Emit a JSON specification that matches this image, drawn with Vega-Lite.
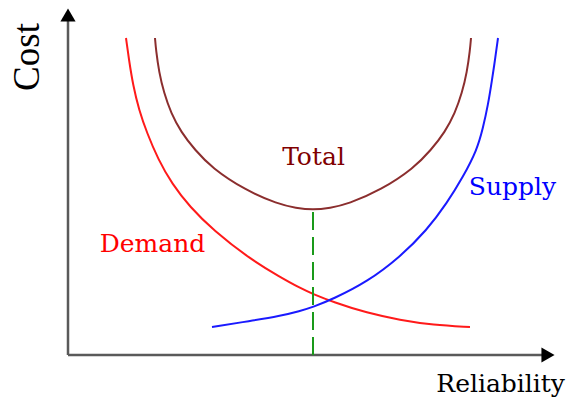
{
  "$schema": "https://vega.github.io/schema/vega-lite/v6.json",
  "width": 490,
  "height": 347,
  "autosize": {"type": "none"},
  "padding": {"left": 68, "top": 8, "right": 8, "bottom": 48},
  "background": "white",
  "config": {"view": {"stroke": null}},
  "datasets": {
    "curves": [
      {"series": "Demand", "x": 58, "y": 317},
      {"series": "Demand", "x": 61, "y": 295},
      {"series": "Demand", "x": 65, "y": 270},
      {"series": "Demand", "x": 71, "y": 245},
      {"series": "Demand", "x": 79, "y": 222},
      {"series": "Demand", "x": 90, "y": 196},
      {"series": "Demand", "x": 104, "y": 171},
      {"series": "Demand", "x": 122, "y": 148},
      {"series": "Demand", "x": 145, "y": 125},
      {"series": "Demand", "x": 182, "y": 96},
      {"series": "Demand", "x": 212, "y": 78},
      {"series": "Demand", "x": 232, "y": 67},
      {"series": "Demand", "x": 245, "y": 61},
      {"series": "Demand", "x": 265, "y": 53},
      {"series": "Demand", "x": 299, "y": 42},
      {"series": "Demand", "x": 332, "y": 35},
      {"series": "Demand", "x": 365, "y": 30},
      {"series": "Demand", "x": 402, "y": 28},
      {"series": "Supply", "x": 144, "y": 28},
      {"series": "Supply", "x": 182, "y": 34},
      {"series": "Supply", "x": 212, "y": 39},
      {"series": "Supply", "x": 232, "y": 44},
      {"series": "Supply", "x": 245, "y": 48},
      {"series": "Supply", "x": 265, "y": 56},
      {"series": "Supply", "x": 299, "y": 73},
      {"series": "Supply", "x": 332, "y": 98},
      {"series": "Supply", "x": 359, "y": 125},
      {"series": "Supply", "x": 379, "y": 152},
      {"series": "Supply", "x": 395, "y": 178},
      {"series": "Supply", "x": 409, "y": 205},
      {"series": "Supply", "x": 415, "y": 227},
      {"series": "Supply", "x": 420, "y": 250},
      {"series": "Supply", "x": 424, "y": 275},
      {"series": "Supply", "x": 427, "y": 295},
      {"series": "Supply", "x": 430, "y": 317},
      {"series": "Total", "x": 87, "y": 317},
      {"series": "Total", "x": 88, "y": 305},
      {"series": "Total", "x": 91, "y": 283},
      {"series": "Total", "x": 96, "y": 262},
      {"series": "Total", "x": 103, "y": 242},
      {"series": "Total", "x": 113, "y": 223},
      {"series": "Total", "x": 127, "y": 205},
      {"series": "Total", "x": 144, "y": 187},
      {"series": "Total", "x": 177, "y": 165},
      {"series": "Total", "x": 210, "y": 151},
      {"series": "Total", "x": 228, "y": 147},
      {"series": "Total", "x": 245, "y": 145},
      {"series": "Total", "x": 262, "y": 147},
      {"series": "Total", "x": 280, "y": 151},
      {"series": "Total", "x": 313, "y": 165},
      {"series": "Total", "x": 346, "y": 187},
      {"series": "Total", "x": 363, "y": 205},
      {"series": "Total", "x": 377, "y": 223},
      {"series": "Total", "x": 387, "y": 242},
      {"series": "Total", "x": 394, "y": 262},
      {"series": "Total", "x": 399, "y": 283},
      {"series": "Total", "x": 402, "y": 305},
      {"series": "Total", "x": 403, "y": 317}
    ],
    "labels": [
      {"series": "Total", "x": 245.5, "y": 190},
      {"series": "Demand", "x": 84.5, "y": 103},
      {"series": "Supply", "x": 444.5, "y": 160}
    ],
    "optimum": [{"x": 245, "y": 0, "y2": 145}],
    "axes": [
      {"x": 0, "y": 0, "x2": 0, "y2": 334},
      {"x": 0, "y": 0, "x2": 476, "y2": 0}
    ],
    "arrows": [
      {"dir": "up", "x": 0, "y": 340},
      {"dir": "right", "x": 480, "y": 0}
    ]
  },
  "resolve": {"scale": {"color": "independent"}},
  "layer": [
    {
      "data": {"name": "axes"},
      "mark": {"type": "rule", "color": "#5a5a5a", "strokeWidth": 2.5, "clip": false},
      "encoding": {
        "x": {"field": "x", "type": "quantitative", "axis": null,
          "scale": {"domain": [0, 490], "nice": false, "zero": false}},
        "x2": {"field": "x2"},
        "y": {"field": "y", "type": "quantitative", "axis": null,
          "scale": {"domain": [0, 347], "nice": false, "zero": false}},
        "y2": {"field": "y2"}
      }
    },
    {
      "data": {"name": "arrows"},
      "mark": {"type": "point", "filled": true, "opacity": 1, "color": "#000000", "size": 230, "clip": false},
      "encoding": {
        "x": {"field": "x", "type": "quantitative", "axis": null},
        "y": {"field": "y", "type": "quantitative", "axis": null},
        "shape": {"field": "dir", "type": "nominal", "legend": null,
          "scale": {"domain": ["up", "right"], "range": ["triangle-up", "triangle-right"]}}
      }
    },
    {
      "data": {"name": "curves"},
      "mark": {"type": "line", "strokeWidth": 2, "interpolate": "basis", "clip": false},
      "encoding": {
        "x": {"field": "x", "type": "quantitative", "axis": null},
        "y": {"field": "y", "type": "quantitative", "axis": null},
        "color": {"field": "series", "type": "nominal", "legend": null,
          "scale": {"domain": ["Demand", "Supply", "Total"], "range": ["#ff1a1a", "#1a1aff", "#8b2e2e"]}}
      }
    },
    {
      "data": {"name": "optimum"},
      "mark": {"type": "rule", "color": "#1a9a1a", "strokeWidth": 2, "strokeDash": [18, 7]},
      "encoding": {
        "x": {"field": "x", "type": "quantitative", "axis": null},
        "y": {"field": "y", "type": "quantitative", "axis": null},
        "y2": {"field": "y2"}
      }
    },
    {
      "data": {"name": "labels"},
      "mark": {"type": "text", "font": "DejaVu Serif", "fontSize": 25, "align": "center", "baseline": "alphabetic"},
      "encoding": {
        "x": {"field": "x", "type": "quantitative", "axis": null},
        "y": {"field": "y", "type": "quantitative", "axis": null},
        "text": {"field": "series", "type": "nominal"},
        "color": {"field": "series", "type": "nominal", "legend": null,
          "scale": {"domain": ["Demand", "Supply", "Total"], "range": ["#ff0000", "#0000ff", "#800000"]}}
      }
    },
    {
      "data": {"values": [{"title": "Cost", "x": -40, "y": 298}]},
      "mark": {"type": "text", "font": "Liberation Serif", "fontSize": 37, "angle": 270, "align": "center", "baseline": "middle", "color": "#000000", "clip": false},
      "encoding": {
        "x": {"field": "x", "type": "quantitative", "axis": null},
        "y": {"field": "y", "type": "quantitative", "axis": null},
        "text": {"field": "title", "type": "nominal"}
      }
    },
    {
      "data": {"values": [{"title": "Reliability", "x": 497, "y": -37}]},
      "mark": {"type": "text", "font": "DejaVu Serif", "fontSize": 25, "align": "right", "baseline": "alphabetic", "color": "#000000", "clip": false},
      "encoding": {
        "x": {"field": "x", "type": "quantitative", "axis": null},
        "y": {"field": "y", "type": "quantitative", "axis": null},
        "text": {"field": "title", "type": "nominal"}
      }
    }
  ]
}
